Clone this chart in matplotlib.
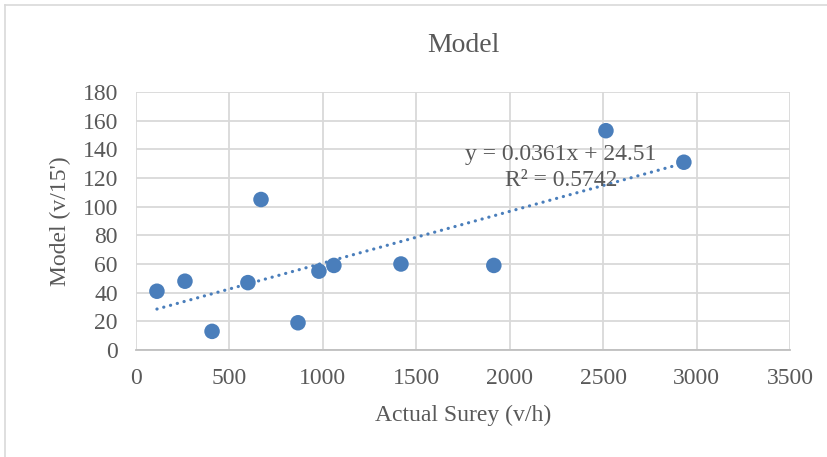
import matplotlib
matplotlib.use("Agg")
import matplotlib.pyplot as plt
from matplotlib.lines import Line2D
import numpy as np

actual = [112, 262, 407, 599, 669, 867, 979, 1059, 1418, 1915, 2515, 2932]
model = [41, 48, 13, 47, 105, 19, 55, 59, 60, 59, 153, 131]
x_ticks = [0, 500, 1000, 1500, 2000, 2500, 3000, 3500]
y_ticks = [0, 20, 40, 60, 80, 100, 120, 140, 160, 180]
title = "Model"
x_label = "Actual Surey (v/h)"
y_label = "Model (v/15')"
eq_text = "y = 0.0361x + 24.51\nR² = 0.5742"

plt.rcParams['font.family'] = ['Liberation Serif', 'DejaVu Serif']
txt = '#595959'
blue = '#4A7EBB'

W, H = 827, 457
fig = plt.figure(figsize=(W/100, H/100), dpi=100)
ax = fig.add_axes([136/W, 1-350/H, (790-136)/W, (350-92)/H])

# outer chart border (left and top edges visible)
fig.lines.append(Line2D([5/W, 5/W], [0, 1-5/H], transform=fig.transFigure, color='#D9D9D9', linewidth=1.2))
fig.lines.append(Line2D([5/W, 1], [1-5/H, 1-5/H], transform=fig.transFigure, color='#D9D9D9', linewidth=1.2))

xs = np.array(actual, dtype=float)
ys = np.array(model, dtype=float)
slope, intercept = np.polyfit(xs, ys, 1)
xl = np.array([xs.min(), xs.max()])
ax.plot(xl, slope*xl + intercept, linestyle=(0, (0.05, 2.15)), color=blue, linewidth=2.3,
        dash_capstyle='round', solid_capstyle='round', zorder=2)
ax.scatter(xs, ys, s=125, color=blue, zorder=3, edgecolors='none')

ax.set_xlim(0, 3500)
ax.set_ylim(0, 180)
ax.set_xticks(x_ticks)
ax.set_yticks(y_ticks)
ax.grid(True, color='#D9D9D9', linewidth=1.3)
ax.set_axisbelow(True)
for s in ['top', 'right', 'left']:
    ax.spines[s].set_visible(False)
ax.spines['bottom'].set_color('#BFBFBF')
ax.spines['bottom'].set_linewidth(1.3)
ax.tick_params(length=0, labelsize=17, colors=txt)
ax.tick_params(axis='y', pad=13)
ax.tick_params(axis='x', pad=13)

fig.text((136+790)/2/W, 1-415/H, x_label, ha='center', va='center', fontsize=17, color=txt)
fig.text(60/W, 1-221/H, y_label, ha='center', va='center', rotation=90, fontsize=17, color=txt)
fig.text((136+790)/2/W, 1-45/H, title, ha='center', va='center', fontsize=20, color=txt)

ax.text(2274, 127.5, eq_text, ha='center', va='center', fontsize=17, color=txt,
        multialignment='center', linespacing=1.3, zorder=4)

fig.savefig('out.png', dpi=100)
